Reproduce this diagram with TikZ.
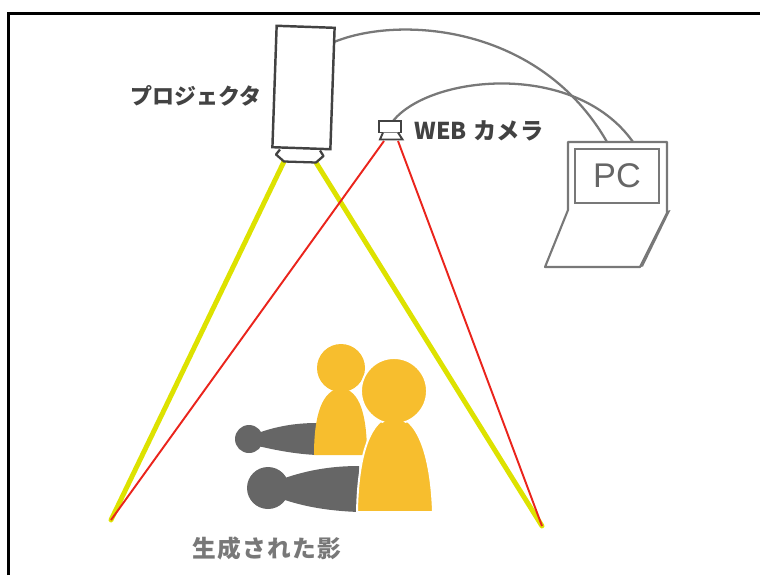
\documentclass[tikz,border=0pt]{standalone}
\usepackage{fontspec}
\newfontfamily\jp{Noto Sans CJK JP}
\newfontfamily\jpwide[LetterSpace=6]{Noto Sans CJK JP}
\newfontfamily\pcfont{Liberation Sans}
\usetikzlibrary{positioning}
\usepackage{xcolor}
\definecolor{ink}{RGB}{66, 66, 66}
\definecolor{wire}{RGB}{120, 120, 120}
\definecolor{lightbeam}{RGB}{221, 226, 0}
\definecolor{camred}{RGB}{234, 36, 28}
\definecolor{personfill}{RGB}{247, 190, 46}
\definecolor{shadowfill}{RGB}{102, 102, 102}

\tikzset{
    beam/.style={draw=lightbeam, line width=2.8pt, line cap=round},
    sight/.style={draw=camred, line width=1.1pt},
    cable/.style={draw=wire, line width=1.3pt},
    jplabel/.style={font=\jp\bfseries\fontsize{12.5}{15}\selectfont, text=ink, inner sep=0pt},
}

\begin{document}
\begin{tikzpicture}[x=0.02cm, y=-0.02cm]
        \useasboundingbox (0,0) rectangle (760,575);

        % frame
        \draw[black, line width=1.7pt] (8.5,575) -- (8.5,13.5) -- (760,13.5);

        % floor corners and device ports
        \coordinate (floorL) at (111,520);
        \coordinate (floorR) at (542,526);
        \coordinate (lensL) at (284,161.5);
        \coordinate (lensR) at (316,162.5);
        \coordinate (camL) at (384,141);
        \coordinate (camR) at (398,141);
        \coordinate (camtop) at (393,121);
        \coordinate (projout) at (334,42);
        \coordinate (plugA) at (607,142);
        \coordinate (plugB) at (633,142);

        % cables
        \draw[cable] (projout) .. controls (400,15) and (540,25) .. (plugA);
        \draw[cable] (camtop) .. controls (430,75) and (575,60) .. (plugB);

        % projector
        \node (proj) [
            rectangle,
            draw=ink,
            line width=1.4pt,
            fill=white,
            minimum width=1.16cm,
            minimum height=2.43cm,
            inner sep=0pt,
            rotate=-2
        ] at (303.5,87.5) {};
        \node (projname) [jplabel] at (196,96) {プロジェクタ};

        % light and view
        \draw[beam] (lensL) -- (floorL);
        \draw[beam] (lensR) -- (floorR);
        \draw[sight] (camL) -- (floorL);
        \draw[sight] (camR) -- (floorR);

        \draw[ink, line width=1.3pt, fill=white, line join=round]
            (280,149.5) -- (276,154.5) -- (lensL) -- (lensR) -- (323.5,156) -- (320,150.5);

        % web camera
        \draw[ink, line width=1.1pt, fill=white] (379,121) rectangle (401,132.5);
        \draw[ink, line width=1.1pt, fill=white] (383,132.5) -- (380,139.5) -- (402.5,139.5) -- (398,132.5);
        \node (camname) [jplabel, font=\jp\bfseries\fontsize{13.2}{16}\selectfont, anchor=west] at (414,131) {WEB\hspace{0.3em}カメラ};

        % pc
        \fill[wire] (667,211) -- (670.5,210) -- (643,266.5) -- (640,267) -- cycle;
        \draw[wire, line width=1.2pt, fill=white, line join=round]
            (568,142) -- (667,142) -- (667,213) -- (640,267) -- (545,267) -- (568,210) -- cycle;
        \node (screen) [
            draw=wire,
            line width=1.2pt,
            minimum width=1.68cm,
            minimum height=1.08cm,
            font=\pcfont\fontsize{19.5}{22}\selectfont,
            text=shadowfill
        ] at (617,176) {PC};

        % shadows
        \fill[shadowfill] (249,439) circle (14);
        \fill[shadowfill] (258,433) .. controls (280,425) and (300,423) .. (317,423)
            -- (317,455) .. controls (295,454) and (275,450) .. (258,446) -- cycle;
        \fill[shadowfill] (268,488) circle (21);
        \fill[shadowfill] (282,479) .. controls (310,469) and (335,466) .. (359,466)
            -- (359,512) .. controls (330,511) and (305,507) .. (282,499) -- cycle;

        % people
        \fill[personfill] (314,455) .. controls (314,415) and (322,390) .. (341,388)
            .. controls (360,390) and (367,415) .. (367,455) -- cycle;
        \fill[personfill] (341,368) circle (24);
        \filldraw[personfill, draw=white, line width=1.1pt]
            (357,512) .. controls (358,455) and (370,418) .. (394,415)
            .. controls (418,418) and (431,455) .. (433,512) -- cycle;
        \filldraw[personfill, draw=white, line width=1.1pt] (394,391) circle (33);
        \fill[personfill] (360,510) .. controls (361,455) and (372,421) .. (394,418)
            .. controls (416,421) and (428,455) .. (430,510) -- cycle;

        \node (shadowname) [jplabel, font=\jpwide\bfseries\fontsize{13.5}{16}\selectfont, text=wire] at (267,548) {生成された影};
\end{tikzpicture}
\end{document}
